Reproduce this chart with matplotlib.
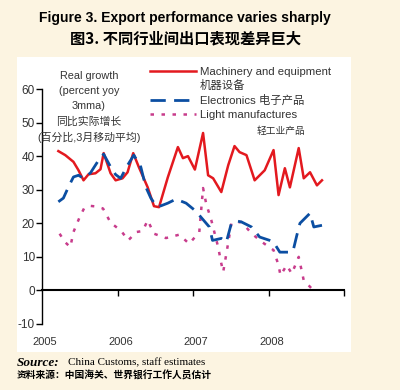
import matplotlib
matplotlib.use("Agg")
import matplotlib.pyplot as plt
from matplotlib.lines import Line2D
from matplotlib.patches import Rectangle

plt.rcParams["font.family"] = ["Liberation Sans", "Noto Sans CJK SC", "DejaVu Sans"]
plt.rcParams["axes.unicode_minus"] = False

# months counted from Jan 2005 (percent, yoy 3mma)
machinery_m = [2.6, 3.7, 5.0, 5.8, 6.6, 7.4, 8.5, 9.3, 9.8, 10.9, 11.7, 12.8, 13.6, 14.5,
               15.4, 16.8, 17.8, 18.6, 20.0, 21.6, 22.4, 23.2, 24.3, 25.6, 26.4, 27.2,
               28.5, 29.6, 30.6, 31.4, 32.5, 33.8, 35.4, 36.8, 37.6, 38.6, 39.4, 40.8,
               41.6, 42.6, 43.7, 44.5]
machinery = [41.5, 40.3, 38.3, 35.8, 32.8, 34.6, 34.9, 36.1, 40.9, 34.9, 32.8, 33.4, 35.2,
             40.9, 36.7, 30.7, 25.1, 24.8, 33.7, 42.7, 39.4, 40.0, 36.0, 46.9, 34.3, 33.4,
             29.3, 37.3, 43.0, 41.2, 40.3, 32.8, 35.8, 41.8, 28.4, 36.4, 30.7, 42.4, 33.4,
             35.2, 31.3, 32.8]

electronics_m = [2.6, 3.4, 4.2, 5.0, 5.8, 6.6, 7.7, 9.0, 9.8, 10.9, 11.7, 12.5, 13.6, 14.6,
                 15.7, 16.5, 17.3, 18.2, 18.9, 20.0, 21.3, 22.9, 24.2, 25.0, 26.6, 27.1,
                 28.5, 29.3, 30.1, 30.9, 31.7, 33.3, 34.6, 36.2, 36.8, 37.8, 39.7, 40.0,
                 40.5, 41.0, 42.6, 43.2, 44.5]
electronics = [26.4, 27.5, 30.8, 33.8, 34.3, 33.4, 35.0, 38.8, 40.6, 36.8, 34.5, 33.4, 37.3,
               40.3, 36.8, 30.8, 27.5, 25.0, 25.2, 26.0, 27.2, 26.0, 24.0, 22.4, 18.9, 14.9,
               15.5, 14.4, 20.0, 20.7, 20.4, 18.9, 15.9, 14.9, 14.4, 11.4, 11.4, 12.5, 16.4,
               20.0, 23.0, 18.9, 19.4]

light_m = [2.8, 3.6, 4.5, 5.0, 6.0, 6.7, 7.6, 8.6, 9.7, 10.9, 12.6, 13.7, 15.0, 16.0, 16.8,
           17.8, 19.7, 21.8, 23.4, 25.0, 25.6, 26.1, 26.9, 28.0, 28.5, 28.8, 29.4, 30.1,
           31.7, 33.3, 34.9, 36.8, 37.6, 37.9, 38.9, 39.7, 40.8, 41.6, 42.9]
light = [16.9, 14.5, 12.9, 17.4, 21.9, 24.5, 25.2, 25.0, 24.4, 20.2, 17.7, 14.9, 17.4, 17.7,
         20.9, 16.9, 15.6, 16.6, 13.9, 17.4, 30.5, 25.8, 21.0, 12.9, 8.0, 5.5, 12.0, 20.0,
         20.4, 17.0, 14.5, 12.0, 7.5, 4.5, 7.5, 5.0, 10.0, 3.0, 0.5]

years = [2005, 2006, 2007, 2008]
year_ticks = [2006, 2007, 2008, 2009]
yticks = [-10, 0, 10, 20, 30, 40, 50, 60]

red = "#e3191f"
blue = "#0b4ea2"
pink = "#c83c8c"
grey = "#333333"


def to_year(months):
    return [2005 + m / 12 for m in months]


W, H = 400, 390
fig = plt.figure(figsize=(W / 100, H / 100), dpi=100, facecolor="#fcf4e1")

# white panel behind the chart
fig.patches.append(Rectangle((17 / W, 1 - 352 / H), 334 / W, 295 / H,
                             transform=fig.transFigure, facecolor="white",
                             edgecolor="none", zorder=-5))

ax = fig.add_axes([42 / W, 66 / H, 302 / W, 235 / H])
ax.set_facecolor("none")

ax.plot(to_year(machinery_m), machinery, color=red, lw=1.8, zorder=3)
ax.plot(to_year(electronics_m), electronics, color=blue, lw=2.0, dashes=(5.5, 3), zorder=4)
ax.plot(to_year(light_m), light, color=pink, lw=1.8, dashes=(1.4, 3), zorder=2)

ax.set_xlim(2005, 2009)
ax.set_ylim(-10, 60)
ax.set_yticks(yticks)
ax.set_xticks(year_ticks)
ax.set_xticklabels([])
ax.spines["top"].set_visible(False)
ax.spines["right"].set_visible(False)
ax.spines["bottom"].set_position(("data", 0))
ax.spines["bottom"].set_linewidth(1.5)
ax.spines["left"].set_linewidth(1.0)
ax.tick_params(axis="y", direction="out", length=4, width=1, labelsize=8.5,
               labelcolor=grey, pad=1)
ax.tick_params(axis="x", direction="out", length=4, width=1)

for yr in years:
    ax.text(yr + 0.04, -0.077, str(yr), transform=ax.get_xaxis_transform(),
            ha="center", va="center", fontsize=8, color=grey)

# legend
handles = [Line2D([], [], color=red, lw=1.8),
           Line2D([], [], linestyle="none"),
           Line2D([], [], color=blue, lw=2.0, dashes=(5.5, 3)),
           Line2D([], [], color=pink, lw=1.8, dashes=(1.4, 3))]
labels = ["Machinery and equipment", "机器设备", "Electronics 电子产品", "Light manufactures"]
fig.legend(handles, labels, loc="upper left", bbox_to_anchor=(150 / W, 1 - 67 / H),
           frameon=False, fontsize=8.2, handlelength=4.0, handletextpad=0.4,
           labelspacing=0.3, borderpad=0, borderaxespad=0, labelcolor=grey)
fig.text(257 / W, 1 - 131 / H, "轻工业产品", fontsize=7, color=grey, va="center")

fig.text(89 / W, 1 - 71 / H,
         "Real growth\n(percent yoy\n3mma)\n同比实际增长\n(百分比,3月移动平均)",
         ha="center", va="top", multialignment="center", fontsize=7.8,
         color=grey, linespacing=1.62)

# titles
fig.text(185 / W, 1 - 18 / H, "Figure 3. Export performance varies sharply",
         ha="center", va="center", fontsize=10, fontweight="bold")
fig.text(185 / W, 1 - 38 / H, "图3. 不同行业间出口表现差异巨大",
         ha="center", va="center", fontsize=11, fontweight="bold",
         family=["Noto Sans CJK SC", "DejaVu Sans"])

# source
fig.text(17 / W, 1 - 363 / H, "Source:", ha="left", va="center", fontsize=9.5,
         style="italic", fontweight="bold", family="Liberation Serif")
fig.text(68 / W, 1 - 363 / H, "China Customs, staff estimates", ha="left", va="center",
         fontsize=8, family="Liberation Serif")
fig.text(17 / W, 1 - 376 / H, "资料来源：中国海关、世界银行工作人员估计", ha="left",
         va="center", fontsize=7, fontweight="bold",
         family=["Noto Sans CJK SC", "DejaVu Sans"])

fig.savefig("out.png", dpi=100, facecolor=fig.get_facecolor())
